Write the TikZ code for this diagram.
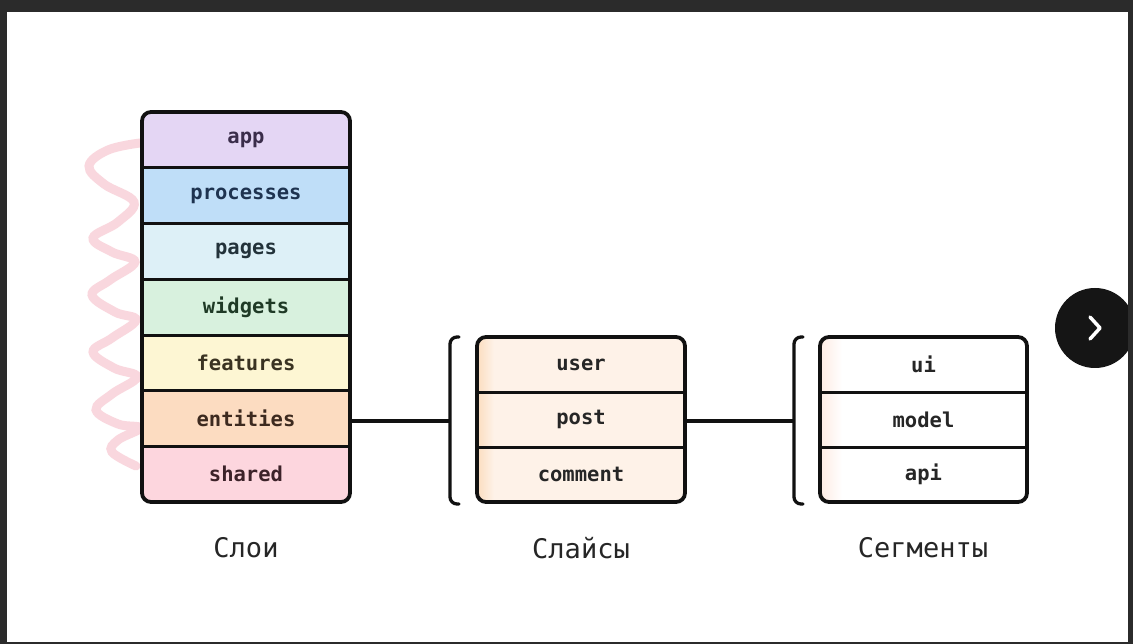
\documentclass[tikz,border=0pt]{standalone}
\usepackage{fontspec}
\setmonofont{DejaVu Sans Mono}
\newfontfamily\lblfont{DejaVu Sans Mono}
\definecolor{frame}{HTML}{2B2B2B}
\definecolor{ink}{HTML}{111111}
\definecolor{cApp}{HTML}{E4D6F4}
\definecolor{cProc}{HTML}{BFDEF8}
\definecolor{cPages}{HTML}{DDF0F7}
\definecolor{cWid}{HTML}{D8F1DE}
\definecolor{cFeat}{HTML}{FDF6D3}
\definecolor{cEnt}{HTML}{FCDCC1}
\definecolor{cShared}{HTML}{FDD6DE}
\definecolor{tApp}{HTML}{3A2D4A}
\definecolor{tProc}{HTML}{1E3350}
\definecolor{tPages}{HTML}{22323A}
\definecolor{tWid}{HTML}{1F3A26}
\definecolor{tFeat}{HTML}{3A3322}
\definecolor{tEnt}{HTML}{3D2A1F}
\definecolor{tShared}{HTML}{3C2229}
\definecolor{cSlice}{HTML}{FEF2E8}
\definecolor{cSliceEdge}{HTML}{FBDDBF}
\definecolor{cSegEdge}{HTML}{FDEBE3}
\definecolor{squig}{HTML}{F8CAD3}
\definecolor{btn}{HTML}{151515}
\tikzset{
  cell/.style={rectangle, inner sep=0pt, minimum width=208pt, minimum height=55.7pt,
    font=\ttfamily\bfseries\fontsize{20.5}{24}\selectfont},
  cellS/.style={cell, minimum height=55pt},
  outline/.style={draw=ink, line width=3.8pt, rounded corners=9pt},
  sep/.style={draw=ink, line width=3pt},
  conn/.style={draw=ink, line width=3.3pt},
  brk/.style={draw=ink, line width=3.3pt, rounded corners=7pt, line cap=round},
  caption/.style={font=\lblfont\fontsize{27}{32}\selectfont, text=black!85}
}
\begin{document}
\begin{tikzpicture}[x=1pt,y=-1pt]
% frame
\fill[frame] (0,0) rectangle (1133,644);
\fill[white] (7,12) rectangle (1128,642);
\useasboundingbox (0,0) rectangle (1133,644);

% squiggle
\draw[squig, line width=9pt, line cap=round, opacity=0.75]
  plot[smooth, tension=0.65] coordinates {
   (140,143) (108,150) (89,166) (104,184) (134,202) (118,222) (93,238) (112,252) (135,262)
   (110,280) (92,295) (115,312) (136,320) (112,338) (93,352) (114,368) (137,377)
   (112,394) (96,410) (118,424) (140,428) (118,440) (112,452) (136,466)};

% ---- layers ----
\begin{scope}
\clip[rounded corners=9pt] (142,112) rectangle (350,502);
\node[cell, fill=cApp,    text=tApp]    (L1) at (246,139.9) {app};
\node[cell, fill=cProc,   text=tProc]   (L2) at (246,195.6) {processes};
\node[cell, fill=cPages,  text=tPages]  (L3) at (246,251.3) {pages};
\node[cell, fill=cWid,    text=tWid]    (L4) at (246,307.0) {widgets};
\node[cell, fill=cFeat,   text=tFeat]   (L5) at (246,362.7) {features};
\node[cell, fill=cEnt,    text=tEnt]    (L6) at (246,418.4) {entities};
\node[cell, fill=cShared, text=tShared] (L7) at (246,474.1) {shared};
\end{scope}
\foreach \a/\b in {L1/L2,L2/L3,L3/L4,L4/L5,L5/L6,L6/L7}
  \draw[sep] (\a.south west) -- (\a.south east);
\draw[outline] (142,112) rectangle (350,502);

% ---- slices ----
\begin{scope}
\clip[rounded corners=9pt] (477,337) rectangle (685,502);
\fill[cSlice] (477,337) rectangle (685,502);
\shade[left color=cSliceEdge, right color=cSlice] (477,337) rectangle (494,502);
\node[cellS, text=black!85] (S1) at (581,364.5) {user};
\node[cellS, text=black!85] (S2) at (581,419.5) {post};
\node[cellS, text=black!85] (S3) at (581,474.5) {comment};
\end{scope}
\foreach \a/\b in {S1/S2,S2/S3}
  \draw[sep] (\a.south west) -- (\a.south east);
\draw[outline] (477,337) rectangle (685,502);

% ---- segments ----
\begin{scope}
\clip[rounded corners=9pt] (820,337) rectangle (1027,502);
\fill[white] (820,337) rectangle (1027,502);
\shade[left color=cSegEdge, right color=white] (820,337) rectangle (842,502);
\node[cellS, minimum width=207pt, text=black!85] (G1) at (923.5,364.5) {ui};
\node[cellS, minimum width=207pt, text=black!85] (G2) at (923.5,419.5) {model};
\node[cellS, minimum width=207pt, text=black!85] (G3) at (923.5,474.5) {api};
\end{scope}
\foreach \a/\b in {G1/G2,G2/G3}
  \draw[sep] (\a.south west) -- (\a.south east);
\draw[outline] (820,337) rectangle (1027,502);

% ---- brackets ----
\coordinate (B1) at (450,421);
\coordinate (B2) at (794,421);
\draw[brk] (459,337) -- (450,337) -- (450,504) -- (459,504);
\draw[brk] (803,337) -- (794,337) -- (794,504) -- (803,504);

% ---- connectors ----
\draw[conn] (L6.east |- B1) -- (B1);
\draw[conn] (S2.east |- B2) -- (B2);

% ---- captions ----
\node[caption] (C1) at (246,548) {Слои};
\node[caption] (C2) at (581,548) {Слайсы};
\node[caption] (C3) at (923,548) {Сегменты};

% ---- next button ----
\node[circle, fill=btn, minimum size=80pt, inner sep=0pt] (N) at (1095,328) {};
\draw[white, line width=3.5pt, line cap=round, line join=round]
  ([shift={(-5,-11)}]N.center) -- ([shift={(5,0)}]N.center) -- ([shift={(-5,11)}]N.center);
\fill[frame] (1128,0) rectangle (1133,644);
\end{tikzpicture}
\end{document}
